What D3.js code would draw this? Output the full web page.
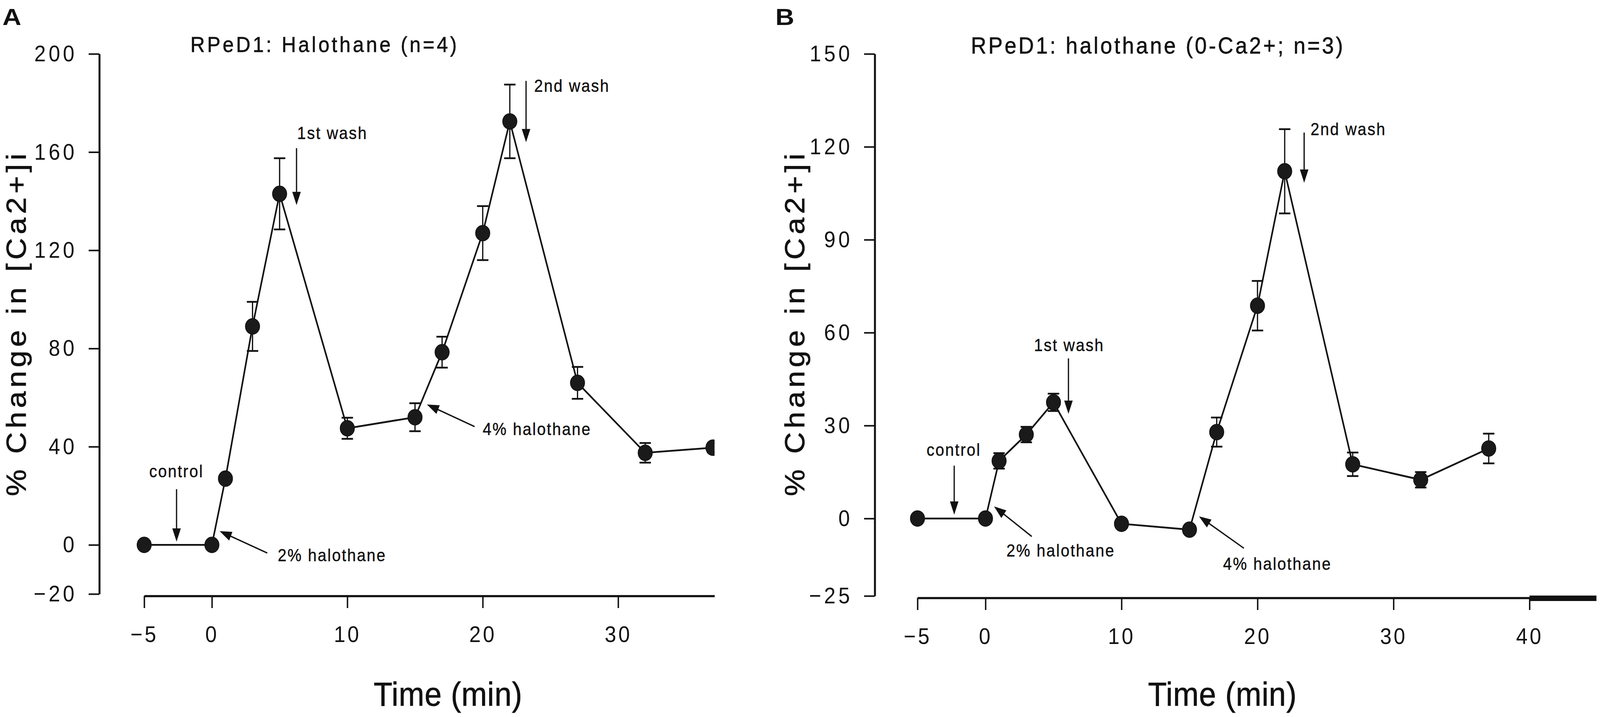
<!DOCTYPE html>
<html><head><meta charset="utf-8">
<script src="https://cdn.jsdelivr.net/npm/d3@7"></script>
<style>
html,body{margin:0;padding:0;background:#fff;overflow:hidden;width:100%;height:100%}
svg{display:block;background:#fff;width:100vw;height:100vh}
text{font-family:"Liberation Sans",Arial,Helvetica,sans-serif;fill:#111}
</style>
</head><body>
<svg id="chart" viewBox="0 0 4494 1836" preserveAspectRatio="none"></svg>
<script>
// ---------- Panel A data: RPeD1: Halothane (n=4) ----------
const timeA  = [-5, 0, 1, 3, 5, 10, 15, 17, 20, 22, 27, 32, 37];
const valueA = [0, 0, 27, 89, 143, 47.5, 52, 78.5, 127, 172.5, 66, 37.5, 39.6];
const errorA = [0, 0, 1.5, 10, 14.5, 4.3, 5.7, 6.3, 11, 15, 6.5, 4, 2];
const yTicksA = [-20, 0, 40, 80, 120, 160, 200];
const xTicksA = [-5, 0, 10, 20, 30];

// ---------- Panel B data: RPeD1: halothane (0-Ca2+; n=3) ----------
const timeB  = [-5, 0, 1, 3, 5, 10, 15, 17, 20, 22, 27, 32, 37];
const valueB = [0, 0, 18.6, 27.1, 37.5, -1.7, -3.6, 27.9, 68.7, 112.1, 17.5, 12.5, 22.6];
const errorB = [0, 0, 2.5, 2.5, 2.8, 0, 0, 4.7, 8, 13.6, 3.8, 2.5, 4.8];
const yTicksB = [-25, 0, 30, 60, 90, 120, 150];
const xTicksB = [-5, 0, 10, 20, 30, 40];

// annotation texts / anchor points in data units (time, % change)
const annotA = [
  {text:"control",      tail:[-2.61, 22.7], tip:[-2.61, 1.3],  at:[-2.62, 27.5], anchor:"middle"},
  {text:"2% halothane", tail:[4.09, -3.3],  tip:[0.57, 5.6],   at:[4.86, -6.7],  anchor:"start"},
  {text:"1st wash",     tail:[6.25, 161.6], tip:[6.25, 138.4], at:[6.3, 165.3],  anchor:"start"},
  {text:"4% halothane", tail:[19.4, 48.2],  tip:[15.88, 57.2], at:[20.0, 44.7],  anchor:"start"},
  {text:"2nd wash",     tail:[23.2, 189],   tip:[23.2, 164],   at:[23.8, 184.5], anchor:"start"}
];
const annotB = [
  {text:"control",      tail:[-2.3, 17.06], tip:[-2.3, 1.24],  at:[-2.33, 20.3], anchor:"middle"},
  {text:"2% halothane", tail:[3.4, -5.8],   tip:[0.63, 3.9],   at:[1.54, -12.3], anchor:"start"},
  {text:"1st wash",     tail:[6.1, 51.7],   tip:[6.1, 33.8],   at:[6.15, 54.1],  anchor:"middle"},
  {text:"4% halothane", tail:[19.0, -9.6],  tip:[15.7, 0.7],   at:[17.47, -16.5],anchor:"start"},
  {text:"2nd wash",     tail:[23.43, 124.6],tip:[23.43, 108.4],at:[23.9, 123.8], anchor:"start"}
];

const panels = [
  {id:"A", letter:"A", letterX:7, title:"RPeD1: Halothane (n=4)", titleX:535, titleY:133, titleLen:748, titleSize:56,
   time:timeA, value:valueA, err:errorA, yTicks:yTicksA, xTicks:xTicksA, annot:annotA,
   xDomain:[-5, 37.12], xRange:[405, 2007], yDomain:[-20, 200], yRange:[1521, 138],
   yAxisX:279, xAxisY:1526, yLabelX:72, xLabelX:1258, clipRight:2007, bar:false},
  {id:"B", letter:"B", letterX:2178, title:"RPeD1: halothane (0-Ca2+; n=3)", titleX:2727, titleY:137, titleLen:1045, titleSize:60,
   time:timeB, value:valueB, err:errorB, yTicks:yTicksB, xTicks:xTicksB, annot:annotB,
   xDomain:[-5, 40], xRange:[2577, 4296], yDomain:[-25, 150], yRange:[1526, 138],
   yAxisX:2457, xAxisY:1531, yLabelX:2259, xLabelX:3433, clipRight:4494, bar:true}
];

const svg = d3.select("#chart");
const ink = "#111";

function arrow(g, x1, y1, x2, y2){
  const dx = x2 - x1, dy = y2 - y1, L = Math.hypot(dx, dy), ux = dx / L, uy = dy / L;
  const hl = 34, hw = 12;
  const bx = x2 - ux * hl, by = y2 - uy * hl;
  g.append("line").attr("x1", x1).attr("y1", y1).attr("x2", bx + ux*4).attr("y2", by + uy*4)
    .attr("stroke", ink).attr("stroke-width", 3.5);
  g.append("path")
    .attr("d", `M${x2},${y2}L${bx - uy*hw},${by + ux*hw}L${bx + uy*hw},${by - ux*hw}Z`)
    .attr("fill", ink);
}

panels.forEach(p => {
  const x = d3.scaleLinear().domain(p.xDomain).range(p.xRange);
  const y = d3.scaleLinear().domain(p.yDomain).range(p.yRange);
  const g = svg.append("g");

  // panel letter
  g.append("text").attr("x", p.letterX).attr("y", 64)
    .attr("font-size", 60).attr("font-weight", "bold")
    .attr("textLength", 53).attr("lengthAdjust", "spacingAndGlyphs")
    .text(p.letter);

  // title
  g.append("text").attr("x", p.titleX).attr("y", p.titleY)
    .attr("font-size", p.titleSize).attr("stroke", ink).attr("stroke-width", 0.8)
    .attr("textLength", p.titleLen).attr("lengthAdjust", "spacing")
    .text(p.title);

  // y axis
  const ya = g.append("g").attr("transform", `translate(${p.yAxisX},0)`)
    .call(d3.axisLeft(y).tickValues(p.yTicks).tickSize(30).tickSizeOuter(0).tickPadding(32));
  ya.attr("font-size", 58).attr("font-family", null);
  ya.select(".domain").attr("stroke", ink).attr("stroke-width", 5.5);
  ya.selectAll(".tick line").attr("stroke", ink).attr("stroke-width", 4);
  ya.selectAll(".tick text").attr("fill", ink).attr("letter-spacing", 8);

  // x axis
  const xa = g.append("g").attr("transform", `translate(0,${p.xAxisY})`)
    .call(d3.axisBottom(x).tickValues(p.xTicks).tickSize(31).tickSizeOuter(0).tickPadding(46));
  xa.attr("font-size", 58).attr("font-family", null);
  xa.select(".domain").attr("stroke", ink).attr("stroke-width", 5.5);
  xa.selectAll(".tick line").attr("stroke", ink).attr("stroke-width", 4);
  xa.selectAll(".tick text").attr("fill", ink).attr("letter-spacing", 6);

  if (p.bar) {
    g.append("rect").attr("x", x(p.xDomain[1])).attr("y", p.xAxisY - 6)
      .attr("width", 4484 - x(p.xDomain[1])).attr("height", 14).attr("fill", ink);
  }

  // axis titles
  g.append("text")
    .attr("transform", `translate(${p.yLabelX},832) rotate(-90)`)
    .attr("text-anchor", "middle").attr("font-size", 77)
    .attr("stroke", ink).attr("stroke-width", 1)
    .attr("textLength", 877).attr("lengthAdjust", "spacing")
    .text("% Change in [Ca2+]i");
  g.append("text").attr("x", p.xLabelX).attr("y", 1807)
    .attr("text-anchor", "middle").attr("font-size", 86)
    .attr("stroke", ink).attr("stroke-width", 1)
    .attr("textLength", 417).attr("lengthAdjust", "spacing")
    .text("Time (min)");

  // data
  const clipId = "clip" + p.id;
  svg.append("clipPath").attr("id", clipId).append("rect")
    .attr("x", 0).attr("y", 0).attr("width", p.clipRight).attr("height", 1836);
  const dg = g.append("g").attr("clip-path", `url(#${clipId})`);
  const pts = p.time.map((t, i) => ({t, v: p.value[i], e: p.err[i]}));

  dg.append("path").datum(pts)
    .attr("d", d3.line().x(d => x(d.t)).y(d => y(d.v)))
    .attr("fill", "none").attr("stroke", ink).attr("stroke-width", 4.5);

  const eb = dg.selectAll(".eb").data(pts.filter(d => d.e > 0)).join("g");
  eb.append("line").attr("x1", d => x(d.t)).attr("x2", d => x(d.t))
    .attr("y1", d => y(d.v + d.e)).attr("y2", d => y(d.v - d.e))
    .attr("stroke", ink).attr("stroke-width", 3.5);
  [1, -1].forEach(s => {
    eb.append("line").attr("x1", d => x(d.t) - 16).attr("x2", d => x(d.t) + 16)
      .attr("y1", d => y(d.v + s * d.e)).attr("y2", d => y(d.v + s * d.e))
      .attr("stroke", ink).attr("stroke-width", 4.5);
  });

  dg.selectAll(".pt").data(pts).join("circle")
    .attr("cx", d => x(d.t)).attr("cy", d => y(d.v)).attr("r", 20)
    .attr("fill", "#1a1a1a").attr("stroke", ink).attr("stroke-width", 2);

  // annotations
  const ag = g.append("g");
  p.annot.forEach(a => {
    arrow(ag, x(a.tail[0]), y(a.tail[1]), x(a.tip[0]), y(a.tip[1]));
    ag.append("text").attr("x", x(a.at[0])).attr("y", y(a.at[1]))
      .attr("text-anchor", a.anchor).attr("font-size", 44).attr("letter-spacing", 3)
      .attr("stroke", ink).attr("stroke-width", 0.6)
      .text(a.text);
  });
});
</script>
</body></html>
